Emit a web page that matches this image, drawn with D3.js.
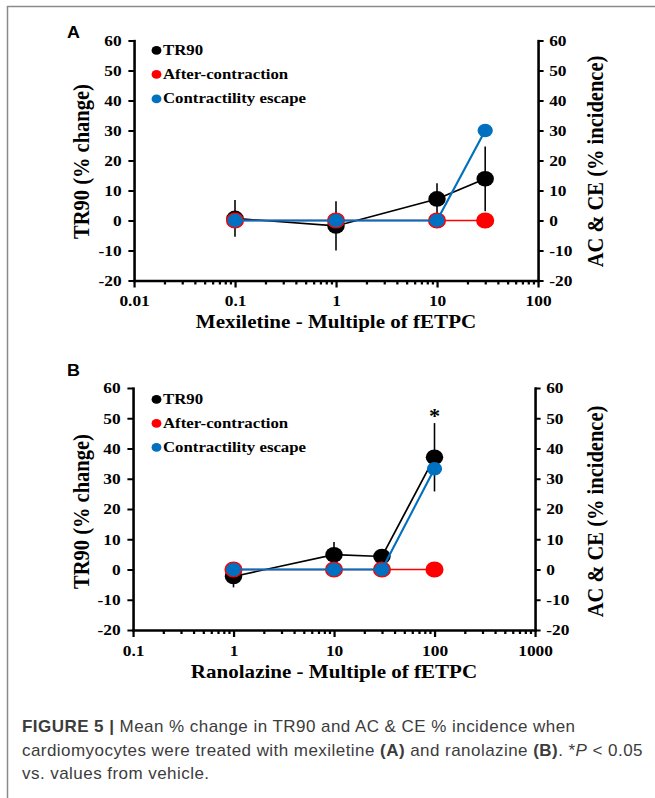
<!DOCTYPE html>
<html>
<head>
<meta charset="utf-8">
<script src="https://cdn.jsdelivr.net/npm/d3@7"></script>
<style>
body { margin: 0; background: #fff; }
.axis path { stroke: #000; stroke-width: 2.3; }
.axis line { stroke: #000; stroke-width: 2; }
.axis text { font-family: "Liberation Serif", "Times New Roman", serif; font-weight: bold; font-size: 15.5px; fill: #000; }
.serif { font-family: "Liberation Serif", "Times New Roman", serif; font-weight: bold; fill: #000; }
</style>
</head>
<body>
<div id="chart"></div>
<script>
// panel A - mexiletine
var mexDoses = [0.1, 1, 10, 30],
    mexTR90 = [0.7, -1.8, 7.2, 13.9],
    mexTR90Err = [6.1, 8.2, 5.2, 10.8],
    mexAC = [0, 0, 0, 0],
    mexCE = [0, 0, 0, 30],
    mexSignif = [false, false, false, false],
    mexXTicks = [0.01, 0.1, 1, 10, 100];

// panel B - ranolazine
var ranDoses = [1, 10, 30, 100],
    ranTR90 = [-2.3, 4.9, 4.3, 37.1],
    ranTR90Err = [3.6, 4.2, 1.2, 11.3],
    ranAC = [0, 0, 0, 0],
    ranCE = [0, 0, 0, 33.3],
    ranSignif = [false, false, false, true],
    ranXTicks = [0.1, 1, 10, 100, 1000];

var yTickValues = [-20, -10, 0, 10, 20, 30, 40, 50, 60],
    seriesNames = ["TR90", "After-contraction", "Contractility escape"],
    leftTitle = "TR90 (% change)",
    rightTitle = "AC & CE (% incidence)";

var W = 655, H = 798,
    sx = 1.12, // the source figure is stretched a bit sideways
    colors = ["#000000", "#ff0000", "#0070c0"];

var svg = d3.select("#chart").append("svg")
    .attr("width", W)
    .attr("height", H);

// grey frame round the figure
svg.append("path")
    .attr("d", "M7.5," + H + "V6.5H" + W)
    .attr("fill", "none")
    .attr("stroke", "#8a8a8a")
    .attr("stroke-width", 1.5);

var panels = [{
    letter: "A", letterY: 38.5,
    doses: mexDoses, tr90: mexTR90, err: mexTR90Err, ac: mexAC, ce: mexCE, signif: mexSignif,
    xTicks: mexXTicks, xTitle: "Mexiletine - Multiple of fETPC",
    left: 134, right: 538, top: 40.5, bottom: 280.5,
    xTitleY: 328, legendY: [55, 79, 103.5], titleCY: 161.5
}, {
    letter: "B", letterY: 376.5,
    doses: ranDoses, tr90: ranTR90, err: ranTR90Err, ac: ranAC, ce: ranCE, signif: ranSignif,
    xTicks: ranXTicks, xTitle: "Ranolazine - Multiple of fETPC",
    left: 133, right: 535, top: 388, bottom: 630,
    xTitleY: 678, legendY: [404, 428, 452], titleCY: 511.5
}];

function drawPanel(p) {
    var g = svg.append("g").attr("transform", "scale(" + sx + ",1)");

    var x = d3.scaleLog()
        .domain([p.xTicks[0], p.xTicks[p.xTicks.length - 1]])
        .range([p.left / sx, p.right / sx]);
    var y = d3.scaleLinear().domain([-20, 60]).range([p.bottom, p.top]);

    // majors plus 2..9 minors in each decade
    var allTicks = [];
    p.xTicks.forEach(function(d, i) {
        allTicks.push(d);
        if (i < p.xTicks.length - 1) {
            for (var k = 2; k <= 9; k++) allTicks.push(d * k);
        }
    });

    var xAxis = d3.axisBottom(x)
        .tickValues(allTicks)
        .tickFormat(function(d) { return p.xTicks.indexOf(d) >= 0 ? String(d) : ""; })
        .tickSizeInner(7)
        .tickSizeOuter(0)
        .tickPadding(7.5);

    var xg = g.append("g")
        .attr("class", "axis")
        .attr("transform", "translate(0," + p.bottom + ")")
        .call(xAxis);
    xg.selectAll(".tick")
        .filter(function(d) { return p.xTicks.indexOf(d) < 0; })
        .select("line").attr("y2", 4);

    // plain hyphen for negatives, as in the source
    var yFmt = function(d) { return String(d); };

    g.append("g")
        .attr("class", "axis")
        .attr("transform", "translate(" + (p.left / sx) + ",0)")
        .call(d3.axisLeft(y).tickValues(yTickValues).tickFormat(yFmt)
            .tickSizeInner(5).tickSizeOuter(0).tickPadding(6));

    g.append("g")
        .attr("class", "axis")
        .attr("transform", "translate(" + (p.right / sx) + ",0)")
        .call(d3.axisRight(y).tickValues(yTickValues).tickFormat(yFmt)
            .tickSizeInner(5).tickSizeOuter(0).tickPadding(5));

    g.selectAll(".axis .domain").attr("stroke-linecap", "square");

    // panel letter
    g.append("text")
        .attr("x", 67 / sx)
        .attr("y", p.letterY)
        .attr("font-family", "'Liberation Sans', Arial, sans-serif")
        .attr("font-weight", "bold")
        .attr("font-size", 16)
        .text(p.letter);

    // axis titles
    g.append("text")
        .attr("class", "serif")
        .attr("transform", "translate(" + (81 / sx) + "," + p.titleCY + ") rotate(-90)")
        .attr("text-anchor", "middle")
        .attr("dy", "0.35em")
        .attr("font-size", 20.5)
        .text(leftTitle);

    g.append("text")
        .attr("class", "serif")
        .attr("transform", "translate(" + (595 / sx) + "," + p.titleCY + ") rotate(-90)")
        .attr("text-anchor", "middle")
        .attr("dy", "0.35em")
        .attr("font-size", 20.5)
        .text(rightTitle);

    g.append("text")
        .attr("class", "serif")
        .attr("x", (p.left + p.right) / 2 / sx)
        .attr("y", p.xTitleY)
        .attr("text-anchor", "middle")
        .attr("font-size", 18.8)
        .text(p.xTitle);

    var pts = function(arr) {
        return p.doses.map(function(d, i) { return { dose: d, v: arr[i], e: p.err[i] }; });
    };
    var line = d3.line()
        .x(function(d) { return x(d.dose); })
        .y(function(d) { return y(d.v); });

    // TR90: error bars, line, markers
    var tr = pts(p.tr90);
    g.append("g").selectAll("line")
        .data(tr)
        .enter()
        .append("line")
        .attr("x1", function(d) { return x(d.dose); })
        .attr("x2", function(d) { return x(d.dose); })
        .attr("y1", function(d) { return y(d.v - d.e); })
        .attr("y2", function(d) { return y(d.v + d.e); })
        .attr("stroke", colors[0])
        .attr("stroke-width", 1.4);

    var series = [
        { data: tr, r: 7.8, stroke: "none", lw: 1.6 },
        { data: pts(p.ac), r: 7.3, stroke: colors[1], lw: 1.6 },
        { data: pts(p.ce), r: 6.8, stroke: "none", lw: 1.9 }
    ];
    series.forEach(function(s, i) {
        g.append("path")
            .datum(s.data)
            .attr("d", line)
            .attr("fill", "none")
            .attr("stroke", colors[i])
            .attr("stroke-width", s.lw);
        g.append("g").selectAll("circle")
            .data(s.data)
            .enter()
            .append("circle")
            .attr("cx", function(d) { return x(d.dose); })
            .attr("cy", function(d) { return y(d.v); })
            .attr("r", s.r)
            .attr("fill", colors[i])
            .attr("stroke", s.stroke)
            .attr("stroke-width", 1.6);
    });

    // significance star above the error bar
    g.append("g").selectAll("text")
        .data(tr.filter(function(d, i) { return p.signif[i]; }))
        .enter()
        .append("text")
        .attr("class", "serif")
        .attr("x", function(d) { return x(d.dose); })
        .attr("y", function(d) { return y(d.v + d.e); })
        .attr("text-anchor", "middle")
        .attr("font-size", 20)
        .text("*");

    // legend
    var lg = g.append("g");
    seriesNames.forEach(function(name, i) {
        lg.append("circle")
            .attr("cx", 156.5 / sx)
            .attr("cy", p.legendY[i] - 4.6)
            .attr("r", 4.4)
            .attr("fill", colors[i]);
        lg.append("text")
            .attr("class", "serif")
            .attr("x", 163 / sx)
            .attr("y", p.legendY[i])
            .attr("font-size", 15)
            .text(name);
    });
}

panels.forEach(drawPanel);

// caption
var caption = [
    [["FIGURE 5 | ", "b"], ["Mean % change in TR90 and AC & CE % incidence when", ""]],
    [["cardiomyocytes were treated with mexiletine ", ""], ["(A)", "b"], [" and ranolazine ", ""],
     ["(B)", "b"], [". *", ""], ["P", "i"], [" < 0.05", ""]],
    [["vs. values from vehicle.", ""]]
];
var capY = [732, 755.5, 779];

caption.forEach(function(parts, i) {
    var t = svg.append("text")
        .attr("x", 22)
        .attr("y", capY[i])
        .attr("font-family", "'Liberation Sans', Arial, sans-serif")
        .attr("font-size", 17)
        .attr("letter-spacing", 0.45)
        .attr("fill", "#3c3c3c");
    parts.forEach(function(s) {
        t.append("tspan")
            .attr("font-weight", s[1] == "b" ? "bold" : null)
            .attr("font-style", s[1] == "i" ? "italic" : null)
            .text(s[0]);
    });
});
</script>
</body>
</html>
